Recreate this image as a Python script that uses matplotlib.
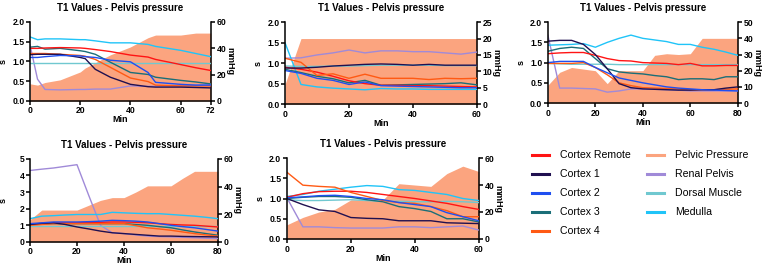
import matplotlib.pyplot as plt
from matplotlib.lines import Line2D

plt.rcParams['font.family'] = ['Liberation Sans', 'DejaVu Sans']

names = ['Cortex Remote', 'Cortex 1', 'Cortex 2', 'Cortex 3', 'Cortex 4',
         'Pelvic Pressure', 'Renal Pelvis', 'Dorsal Muscle', 'Medulla']
colors = {'Cortex Remote': '#ff1414', 'Cortex 1': '#201050', 'Cortex 2': '#1f4ff0',
          'Cortex 3': '#1a6e78', 'Cortex 4': '#ff5a14', 'Pelvic Pressure': '#fba47f',
          'Renal Pelvis': '#a08ad8', 'Dorsal Muscle': '#70c8d0', 'Medulla': '#20c4f8'}

# panel 1
t1 = [0, 3, 6, 12, 20, 22, 26, 32, 40, 47, 50, 60, 66, 72]
p1 = [13, 12, 14, 16, 22, 25, 29, 35, 41, 48, 50, 50, 51.5, 51.5]
s1 = {
    'Medulla':       [1.62, 1.55, 1.57, 1.57, 1.55, 1.55, 1.52, 1.47, 1.47, 1.43, 1.38, 1.28, 1.20, 1.12],
    'Cortex Remote': [1.33, 1.33, 1.34, 1.35, 1.34, 1.33, 1.30, 1.25, 1.16, 1.11, 1.05, 0.92, 0.84, 0.77],
    'Cortex 3':      [1.36, 1.38, 1.31, 1.33, 1.27, 1.25, 1.18, 0.98, 0.72, 0.67, 0.60, 0.52, 0.48, 0.43],
    'Cortex 4':      [1.20, 1.20, 1.20, 1.18, 1.15, 1.13, 1.05, 0.85, 0.58, 0.49, 0.40, 0.38, 0.38, 0.38],
    'Cortex 1':      [1.17, 1.18, 1.18, 1.18, 1.10, 1.07, 0.80, 0.60, 0.42, 0.36, 0.35, 0.35, 0.34, 0.33],
    'Cortex 2':      [1.10, 1.10, 1.12, 1.15, 1.14, 1.12, 1.10, 1.03, 0.99, 0.72, 0.47, 0.42, 0.40, 0.40],
    'Dorsal Muscle': [0.96, 0.96, 0.96, 0.96, 0.96, 0.96, 0.96, 0.96, 0.96, 0.96, 0.96, 0.96, 0.96, 0.96],
    'Renal Pelvis':  [1.42, 0.55, 0.29, 0.28, 0.29, 0.29, 0.30, 0.30, 0.38, 0.37, 0.37, 0.38, 0.40, 0.43],
}

# panel 2
t2 = [0, 5, 10, 15, 20, 25, 30, 35, 40, 45, 50, 55, 60]
p2 = [6, 20, 20, 20, 20, 20, 20, 20, 20, 20, 20, 20, 20]
s2 = {
    'Renal Pelvis':  [1.12, 1.13, 1.20, 1.25, 1.32, 1.25, 1.30, 1.30, 1.28, 1.28, 1.25, 1.22, 1.27],
    'Cortex 1':      [0.88, 0.88, 0.90, 0.93, 0.95, 0.97, 0.98, 0.97, 0.95, 0.97, 0.95, 0.95, 0.95],
    'Dorsal Muscle': [0.93, 0.92, 0.92, 0.93, 0.93, 0.94, 0.95, 0.95, 0.95, 0.95, 0.94, 0.94, 0.94],
    'Medulla':       [1.50, 0.48, 0.42, 0.39, 0.37, 0.35, 0.38, 0.37, 0.37, 0.36, 0.36, 0.36, 0.36],
    'Cortex 4':      [1.12, 1.02, 0.70, 0.74, 0.63, 0.73, 0.63, 0.63, 0.63, 0.60, 0.63, 0.62, 0.63],
    'Cortex Remote': [0.90, 0.85, 0.78, 0.68, 0.57, 0.50, 0.46, 0.46, 0.45, 0.45, 0.44, 0.43, 0.42],
    'Cortex 3':      [0.85, 0.77, 0.68, 0.62, 0.52, 0.58, 0.46, 0.47, 0.48, 0.49, 0.50, 0.52, 0.47],
    'Cortex 2':      [0.82, 0.75, 0.63, 0.58, 0.48, 0.54, 0.45, 0.44, 0.43, 0.42, 0.41, 0.40, 0.40],
}

# panel 3
t3 = [0, 5, 10, 15, 20, 25, 30, 35, 40, 45, 50, 55, 60, 65, 70, 75, 80]
p3 = [11, 19, 22, 21, 20, 12, 20, 20, 20, 29.5, 30.5, 30, 30.5, 40, 40, 40, 40]
s3 = {
    'Renal Pelvis':  [1.68, 0.37, 0.37, 0.36, 0.35, 0.27, 0.30, 0.35, 0.35, 0.34, 0.33, 0.32, 0.30, 0.30, 0.30, 0.30, 0.30],
    'Cortex 1':      [1.53, 1.55, 1.55, 1.45, 1.20, 0.85, 0.48, 0.38, 0.35, 0.34, 0.33, 0.32, 0.32, 0.33, 0.33, 0.37, 0.40],
    'Medulla':       [1.43, 1.44, 1.45, 1.47, 1.38, 1.50, 1.60, 1.68, 1.60, 1.56, 1.52, 1.45, 1.45, 1.38, 1.33, 1.26, 1.18],
    'Cortex Remote': [1.22, 1.24, 1.25, 1.25, 1.18, 1.10, 1.05, 1.04, 1.00, 0.99, 0.98, 0.95, 0.98, 0.92, 0.92, 0.93, 0.93],
    'Cortex 3':      [1.28, 1.35, 1.38, 1.35, 1.10, 0.85, 0.77, 0.74, 0.72, 0.68, 0.65, 0.58, 0.60, 0.60, 0.58, 0.65, 0.65],
    'Dorsal Muscle': [0.98, 0.97, 0.96, 0.96, 0.96, 0.96, 0.95, 0.95, 0.95, 0.95, 0.95, 0.95, 0.95, 0.95, 0.95, 0.95, 0.95],
    'Cortex 2':      [1.00, 1.03, 1.03, 1.03, 0.88, 0.75, 0.62, 0.56, 0.50, 0.45, 0.40, 0.37, 0.35, 0.33, 0.32, 0.31, 0.30],
    'Cortex 4':      [0.98, 0.98, 0.98, 1.00, 0.88, 0.70, 0.50, 0.43, 0.38, 0.37, 0.36, 0.35, 0.33, 0.33, 0.33, 0.34, 0.35],
}

# panel 4
t4 = [0, 5, 10, 15, 20, 25, 30, 35, 40, 45, 50, 55, 60, 65, 70, 75, 80]
p4 = [16, 23, 23, 23, 23, 26.5, 30, 32, 32, 36, 40.5, 40.5, 40.5, 46, 51, 51, 51]
s4 = {
    'Renal Pelvis':  [4.30, 4.38, 4.45, 4.55, 4.65, 2.80, 1.00, 0.55, 0.50, 0.42, 0.35, 0.32, 0.30, 0.28, 0.25, 0.22, 0.20],
    'Medulla':       [1.40, 1.55, 1.58, 1.62, 1.65, 1.65, 1.65, 1.78, 1.75, 1.72, 1.70, 1.70, 1.65, 1.60, 1.55, 1.48, 1.40],
    'Cortex Remote': [1.05, 1.10, 1.15, 1.15, 1.15, 1.17, 1.18, 1.20, 1.20, 1.18, 1.15, 1.10, 1.05, 1.02, 1.00, 0.95, 0.90],
    'Cortex 2':      [1.10, 1.15, 1.20, 1.20, 1.20, 1.22, 1.25, 1.30, 1.28, 1.25, 1.20, 1.10, 1.00, 0.92, 0.85, 0.75, 0.65],
    'Cortex 3':      [1.05, 1.08, 1.10, 1.10, 1.10, 1.10, 1.10, 1.10, 1.10, 1.05, 1.00, 0.92, 0.85, 0.72, 0.60, 0.50, 0.40],
    'Cortex 4':      [1.00, 1.05, 1.10, 1.10, 1.10, 1.10, 1.10, 1.10, 1.10, 0.98, 0.85, 0.78, 0.70, 0.60, 0.50, 0.42, 0.35],
    'Dorsal Muscle': [0.95, 0.95, 0.95, 0.95, 0.95, 0.95, 0.95, 0.95, 0.95, 0.95, 0.95, 0.95, 0.95, 0.95, 0.95, 0.95, 0.95],
    'Cortex 1':      [1.05, 1.12, 1.15, 1.05, 0.90, 0.78, 0.65, 0.55, 0.50, 0.45, 0.40, 0.35, 0.35, 0.33, 0.32, 0.31, 0.30],
}

# panel 5
t5 = [0, 5, 10, 15, 20, 25, 30, 35, 40, 45, 50, 55, 60]
p5 = [10.5, 16, 20, 22, 29, 29, 29, 41, 40, 39, 48.5, 54, 50]
s5 = {
    'Cortex 4':      [1.65, 1.33, 1.30, 1.28, 1.15, 1.05, 0.95, 0.90, 0.88, 0.80, 0.70, 0.55, 0.55],
    'Medulla':       [1.05, 1.10, 1.18, 1.23, 1.28, 1.32, 1.30, 1.22, 1.20, 1.15, 1.10, 1.00, 0.95],
    'Cortex Remote': [1.03, 1.12, 1.17, 1.18, 1.18, 1.15, 1.10, 1.05, 1.00, 0.94, 0.88, 0.80, 0.73],
    'Cortex 2':      [1.02, 1.04, 1.07, 1.08, 1.05, 1.00, 0.97, 0.90, 0.85, 0.80, 0.65, 0.55, 0.45],
    'Cortex 3':      [1.00, 1.03, 1.05, 1.05, 1.03, 0.97, 0.92, 0.80, 0.75, 0.68, 0.50, 0.50, 0.42],
    'Dorsal Muscle': [0.97, 0.95, 0.95, 0.96, 0.97, 0.95, 0.93, 0.93, 0.92, 0.92, 0.93, 0.92, 0.90],
    'Cortex 1':      [1.00, 0.85, 0.72, 0.68, 0.53, 0.51, 0.50, 0.45, 0.45, 0.45, 0.40, 0.39, 0.38],
    'Renal Pelvis':  [1.02, 0.30, 0.30, 0.28, 0.27, 0.27, 0.27, 0.30, 0.30, 0.28, 0.30, 0.32, 0.22],
}

panels = [
    # data, rect, x ticks, left ylim/ticks, right ylim/ticks
    (t1, p1, s1, [0.0393, 0.622, 0.237, 0.296], [0, 20, 40, 60, 72], (0, 2, [0, 0.5, 1.0, 1.5, 2.0]), (60, [0, 20, 40, 60])),
    (t2, p2, s2, [0.3735, 0.610, 0.2516, 0.307], [0, 20, 40, 60], (0, 2, [0, 0.5, 1.0, 1.5, 2.0]), (25, [0, 5, 10, 15, 20, 25])),
    (t3, p3, s3, [0.718, 0.614, 0.249, 0.303], [0, 20, 40, 60, 80], (0, 2, [0, 0.5, 1.0, 1.5, 2.0]), (50, [0, 10, 20, 30, 40, 50])),
    (t4, p4, s4, [0.0393, 0.094, 0.2464, 0.311], [0, 20, 40, 60, 80], (0, 5, [0, 1, 2, 3, 4, 5]), (60, [0, 20, 40, 60])),
    (t5, p5, s5, [0.376, 0.105, 0.2516, 0.303], [0, 20, 40, 60], (0, 2, [0, 0.5, 1.0, 1.5, 2.0]), (60, [0, 20, 40, 60])),
]

fig = plt.figure(figsize=(7.63, 2.67), dpi=100)
fs = 6.5
tfs = 6.2
for t, p, s, rect, xt, (y0, y1, yt), (r1, rt) in panels:
    ax = fig.add_axes(rect)
    ax2 = ax.twinx()
    ax2.fill_between(t, 0, p, color=colors['Pelvic Pressure'], lw=0)
    ax2.set_ylim(0, r1)
    ax2.set_yticks(rt)
    # lines above the pressure area
    ax.set_zorder(ax2.get_zorder() + 1)
    ax.patch.set_visible(False)
    for name in ['Renal Pelvis', 'Dorsal Muscle', 'Medulla', 'Cortex 3', 'Cortex Remote',
                 'Cortex 4', 'Cortex 1', 'Cortex 2']:
        ax.plot(t, s[name], color=colors[name], lw=1.0)
    ax.set_xlim(0, xt[-1])
    ax.set_xticks(xt)
    ax.set_ylim(y0, y1)
    ax.set_yticks(yt)
    if y1 == 2:
        ax.set_yticklabels(['%.1f' % v for v in yt])
    for a in (ax, ax2):
        a.spines['top'].set_visible(False)
        for sp in ['left', 'right', 'bottom']:
            a.spines[sp].set_linewidth(1.1)
        a.tick_params(width=1.1, length=3, labelsize=tfs, pad=1)
        for lab in a.get_xticklabels() + a.get_yticklabels():
            lab.set_fontweight('bold')
    ax.spines['right'].set_visible(False)
    ax2.spines['left'].set_visible(False)
    ax2.spines['bottom'].set_visible(False)
    ax.set_title('T1 Values - Pelvis pressure', fontsize=fs + 0.5, fontweight='bold', pad=8)
    ax.set_xlabel('Min', fontsize=fs, fontweight='bold', labelpad=0)
    ax.set_ylabel('s', fontsize=fs, fontweight='bold')
    ax.yaxis.set_label_coords(-22 / (rect[2] * 763), 0.5)
    ax2.set_ylabel('mmHg', fontsize=fs, fontweight='bold', rotation=270, labelpad=6)

handles = [Line2D([], [], color=colors[n], lw=2.2) for n in names]
fig.legend(handles, names, loc='upper left', bbox_to_anchor=(0.685, 0.472), ncol=2,
           frameon=False, fontsize=7.6, handlelength=1.6, columnspacing=1.6,
           labelspacing=0.85, handletextpad=1.0)

fig.savefig('out.png', dpi=100)
